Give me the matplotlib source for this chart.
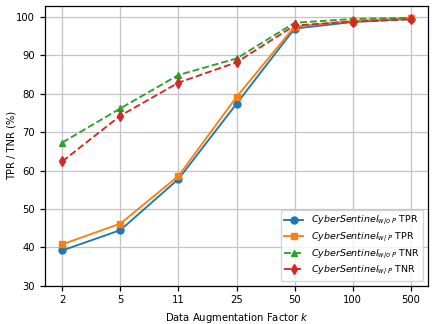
import numpy as np
import matplotlib
matplotlib.use('Agg')
import matplotlib.pyplot as plt

# augmentation factors (categorical x axis)
factors = ['2', '5', '11', '25', '50', '100', '500']
tpr_wo_p = [39.2, 44.5, 57.8, 77.4, 97.0, 98.7, 99.5]
tpr_w_p = [40.8, 46.2, 58.6, 79.2, 97.5, 99.0, 99.7]
tnr_wo_p = [67.3, 76.2, 84.9, 89.2, 98.5, 99.5, 99.8]
tnr_w_p = [62.4, 74.3, 82.9, 88.2, 97.8, 98.8, 99.4]

plt.rcParams['font.size'] = 7.2
plt.rcParams['axes.linewidth'] = 0.9
plt.rcParams['xtick.major.width'] = 0.9
plt.rcParams['ytick.major.width'] = 0.9

fig, ax = plt.subplots(figsize=(4.36, 3.24), dpi=100)
x = np.arange(len(factors))

ms = 5
lw = 1.35
ax.plot(x, tpr_wo_p, '-o', color='tab:blue', markersize=ms, linewidth=lw, label=r'$CyberSentinel_{w/o\ P}$ TPR')
ax.plot(x, tpr_w_p, '-s', color='tab:orange', markersize=ms, linewidth=lw, label=r'$CyberSentinel_{w/\ P}$ TPR')
ax.plot(x, tnr_wo_p, '--^', color='tab:green', markersize=ms, linewidth=lw, label=r'$CyberSentinel_{w/o\ P}$ TNR')
ax.plot(x, tnr_w_p, '--d', color='tab:red', markersize=ms, linewidth=lw, label=r'$CyberSentinel_{w/\ P}$ TNR')

ax.set_xticks(x)
ax.set_xticklabels(factors)
ax.set_xlim(-0.3, 6.3)
ax.set_ylim(30, 103)
ax.set_xlabel(r'Data Augmentation Factor $k$')
ax.set_ylabel('TPR / TNR (%)')
ax.yaxis.set_label_coords(-0.073, 0.5)
ax.grid(True, color='#c4c4c4', linewidth=0.9)
ax.legend(loc='lower right', fontsize=6.8, labelspacing=0.3)

fig.subplots_adjust(left=0.103, right=0.982, top=0.983, bottom=0.118)
fig.savefig('out.png')
